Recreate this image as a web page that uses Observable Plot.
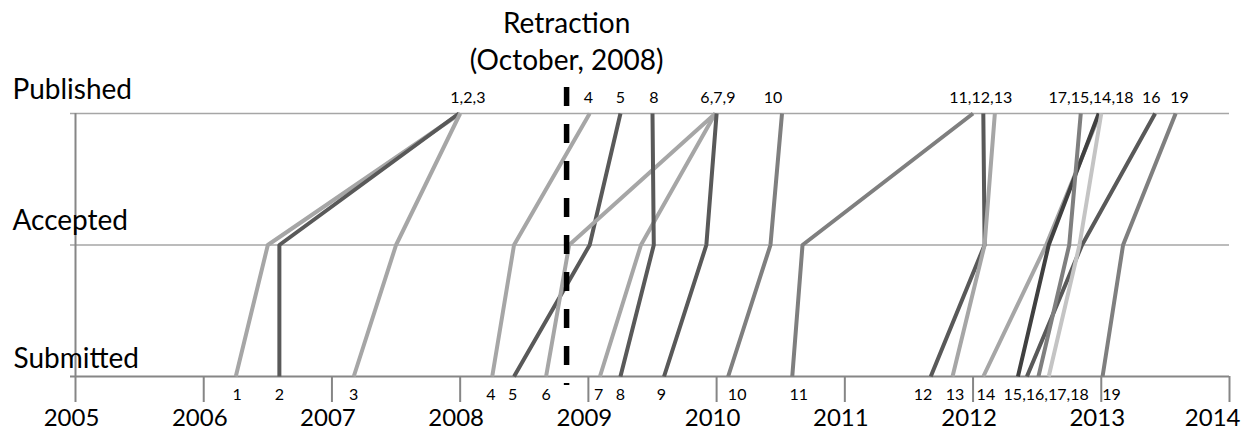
<!DOCTYPE html>
<html><head><meta charset="utf-8">
<script src="https://cdn.jsdelivr.net/npm/d3@7"></script>
<script src="https://cdn.jsdelivr.net/npm/@observablehq/plot@0.6"></script>
<style>body{margin:0;background:#fff} #chart svg{display:block}</style>
</head><body><div id="chart"></div>
<script>
// ---- data ----
const papers = ["1","2","3","4","5","6","7","8","9","10","11","12","13","14","15","16","17","18","19"];
const submitted = [2006.25, 2006.59, 2007.17, 2008.25, 2008.42, 2008.67, 2009.09, 2009.25, 2009.59, 2010.09, 2010.59, 2011.67, 2011.84, 2012.08, 2012.35, 2012.42, 2012.51, 2012.59, 2013.01];
const accepted  = [2006.50, 2006.59, 2007.50, 2008.42, 2009.01, 2008.85, 2009.41, 2009.51, 2009.92, 2010.42, 2010.67, 2012.09, 2012.09, 2012.57, 2012.59, 2012.85, 2012.75, 2012.83, 2013.17];
const published = [2008.00, 2007.99, 2008.00, 2009.01, 2009.25, 2009.99, 2009.99, 2009.50, 2010.00, 2010.51, 2012.00, 2012.08, 2012.17, 2012.99, 2012.98, 2013.42, 2012.84, 2013.00, 2013.58];
const stageNames = ["Submitted", "Accepted", "Published"];
const years = [2005, 2006, 2007, 2008, 2009, 2010, 2011, 2012, 2013, 2014];
const retractionYear = 2008.83;
const retractionLabel = "Retraction\n(October, 2008)";
const topLabels = ["1,2,3", "4", "5", "8", "6,7,9", "10", "11,12,13", "17,15,14,18", "16", "19"];
const topLabelYears = [2008.06, 2009.00, 2009.25, 2009.51, 2010.01, 2010.44, 2012.06, 2012.92, 2013.39, 2013.61];
const bottomLabels = ["1","2","3","4","5","6","7","8","9","10","11","12","13","14","15,16,17,18","19"];
const bottomLabelYears = [2006.26, 2006.59, 2007.17, 2008.24, 2008.41, 2008.67, 2009.08, 2009.25, 2009.57, 2010.16, 2010.64, 2011.61, 2011.86, 2012.10, 2012.57, 2013.08];

// ---- styles ----
const paperColors = ["#a6a6a6","#595959","#a6a6a6","#a6a6a6","#595959","#a6a6a6","#a6a6a6","#595959","#595959","#7f7f7f",
                     "#7f7f7f","#595959","#a6a6a6","#a6a6a6","#404040","#595959","#7f7f7f","#c4c4c4","#7f7f7f"];
const axisGray = "#868686";
const gridGray = "#a6a6a6";

const rows = papers.flatMap((p, i) => [
  {paper: p, stage: 0, date: submitted[i]},
  {paper: p, stage: 1, date: accepted[i]},
  {paper: p, stage: 2, date: published[i]}
]);

const lastYear = years[years.length - 1];

const chart = Plot.plot({
  width: 1245,
  height: 430,
  marginLeft: 75,
  marginRight: 16,
  marginTop: 113,
  marginBottom: 54,
  style: {fontFamily: "Lato", fontSize: "16px", background: "#fff", color: "#000"},
  x: {type: "linear", domain: [2005, 2014], axis: null},
  y: {type: "linear", domain: [0, 2], axis: null},
  color: {type: "ordinal", domain: papers, range: paperColors},
  marks: [
    Plot.ruleY(stageNames.slice(1), {y: d => stageNames.indexOf(d), stroke: gridGray, strokeWidth: 1.5, insetLeft: -5}),
    Plot.ruleY(stageNames.slice(0, 1), {y: d => stageNames.indexOf(d), stroke: axisGray, strokeWidth: 2, insetLeft: -5}),
    Plot.ruleX(years.slice(0, 1), {x: d => d, stroke: axisGray, strokeWidth: 2}),
    Plot.axisX(years, {tickSize: 26, stroke: axisGray, strokeWidth: 2, label: null, tickFormat: () => ""}),
    Plot.text(years.slice(0, -1), {x: d => d, frameAnchor: "bottom", lineAnchor: "top", dy: 32, dx: -4, fontSize: 24, text: d => String(d)}),
    Plot.text([lastYear], {x: d => d, frameAnchor: "bottom", lineAnchor: "top", dy: 32, dx: 11, textAnchor: "end", fontSize: 24, text: d => String(d)}),
    Plot.line(rows, {x: "date", y: "stage", z: "paper", stroke: "paper", strokeWidth: 4, strokeLinecap: "butt", strokeLinejoin: "round"}),
    Plot.ruleX([retractionYear], {x: d => d, stroke: "#000", strokeWidth: 5.5, strokeDasharray: "19,18", insetTop: -26, insetBottom: -9}),
    Plot.text([retractionLabel], {x: () => retractionYear, frameAnchor: "top", lineAnchor: "bottom", dy: -44, lineHeight: 1.29, fontSize: 28}),
    Plot.text(topLabels, {x: (d, i) => topLabelYears[i], frameAnchor: "top", lineAnchor: "bottom", dy: -11, fontSize: 16}),
    Plot.text(bottomLabels, {x: (d, i) => bottomLabelYears[i], frameAnchor: "bottom", lineAnchor: "top", dy: 12, fontSize: 16}),
    Plot.text(stageNames.slice(1), {y: d => stageNames.indexOf(d), frameAnchor: "left", textAnchor: "start", dx: -63, lineAnchor: "bottom", dy: -15, fontSize: 28}),
    Plot.text(stageNames.slice(0, 1), {y: d => stageNames.indexOf(d), frameAnchor: "left", textAnchor: "start", dx: -62, lineAnchor: "bottom", dy: -9, fontSize: 28})
  ]
});
document.getElementById("chart").append(chart);
</script>
</body></html>
